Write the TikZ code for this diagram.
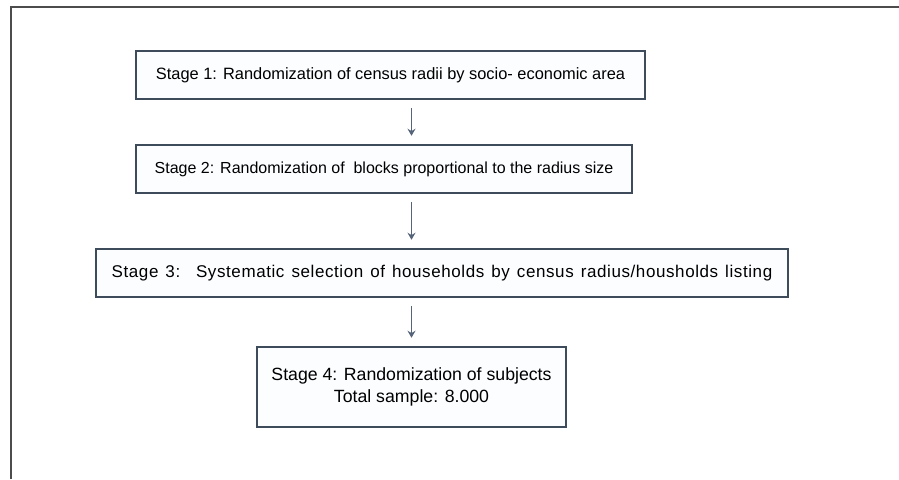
\documentclass[tikz,border=0pt]{standalone}
\usepackage{fontspec}
\setmainfont{Liberation Sans}
\usetikzlibrary{arrows.meta}
\definecolor{boxline}{HTML}{3E4B5B}
\definecolor{arrline}{HTML}{56647A}
\definecolor{boxfill}{HTML}{FBFDFF}
\newcommand{\widestage}{\fontsize{17}{20}\selectfont\addfontfeature{LetterSpace=3.5}\spaceskip=7pt\relax}

\begin{document}
\begin{tikzpicture}
[x=1pt,y=-1pt]
\tikzset{stagebox/.style={draw=boxline,line width=2.5pt,fill=boxfill,inner sep=0pt,
  minimum height=48pt,align=center,font=\fontsize{16.4}{22}\selectfont}}
\tikzset{arr/.style={draw=arrline,line width=1.6pt,-{Stealth[length=7pt,width=8pt]},
  shorten <=8pt,shorten >=8pt}}
\useasboundingbox (0,0) rectangle (899,479);
\draw[line width=2pt,draw=black!70] (11,479) -- (11,7) -- (899,7);
\node [stagebox,minimum width=509pt] (n1) at (390.5,75) {Stage 1: Randomization of census radii by socio- economic area};
\node [stagebox,minimum width=496pt,font=\fontsize{16}{20}\selectfont] (n2) at (384,169) {Stage 2: Randomization of~ blocks proportional to the radius size};
\node [stagebox,minimum width=692pt,font=\widestage] (n3) at (442,273) {Stage 3:~ Systematic selection of households by census radius/housholds listing};
\node [stagebox,minimum width=309pt,minimum height=80pt,font=\fontsize{17.7}{22}\selectfont] (n4) at (411.5,387) {Stage 4: Randomization of subjects\\Total sample: 8.000};

\foreach \from/\to in {n1/n2,n2/n3}
	\draw[arr] (\from.south -| n4) -- (\to.north -| n4);
\draw[arr] (n3.south -| n4) -- (n4.north);
\end{tikzpicture}
\end{document}
